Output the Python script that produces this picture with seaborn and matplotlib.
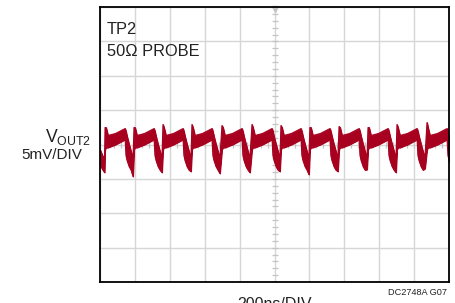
import matplotlib
matplotlib.use("Agg")
import matplotlib.pyplot as plt
import numpy as np
import seaborn as sns

# ---------------- data ----------------
# rising-edge instants of the ripple (ns), 200 ns/div over 10 divisions
edge_times_ns = [29, 195, 361, 527, 699, 871, 1037, 1203, 1370, 1536, 1702, 1874]
# height of the spike at each rising edge (mV)
spike_top_mv = [2.47, 2.47, 2.91, 2.91, 2.76, 2.91, 2.76, 2.47, 2.62, 2.47, 2.91, 3.20]
# lowest point of the band just before the following edge (mV)
trough_mv = [-4.65, -4.07, -3.92, -4.21, -4.07, -3.92, -4.36, -3.92, -3.63, -4.07, -3.49, -3.92]
# one switching period of the band: time after the edge (ns), upper / lower envelope (mV)
shape_dt_ns = [0, 6, 17, 60, 115, 120, 126, 138, 149, 160]
shape_hi_mv = [None, 2.47, 1.31, 1.60, 2.32, 1.90, 1.20, 0.00, -1.00, -1.90]
shape_lo_mv = [-0.73, -0.44, -0.44, 0.00, 0.73, -1.60, -2.30, -3.20, -3.70, None]
# start of the trace before the first edge
lead_t_ns = [0, 14, 26]
lead_hi_mv = [-0.73, -1.60, -2.00]
lead_lo_mv = [-2.90, -3.60, -4.07]

x_ticks_ns = list(range(0, 2001, 200))
y_ticks_mv = list(range(-20, 21, 5))

RED = "#A8001F"
GRID = "#d6d6d6"

# ---------------- build the trace ----------------
t, hi, lo = list(lead_t_ns), list(lead_hi_mv), list(lead_lo_mv)
for k, e in enumerate(edge_times_ns):
    for j, dt in enumerate(shape_dt_ns):
        t.append(e + dt)
        hi.append(spike_top_mv[k] if shape_hi_mv[j] is None else shape_hi_mv[j])
        lo.append(trough_mv[k] if shape_lo_mv[j] is None else shape_lo_mv[j])

sns.set_theme(style="white")
REG = ["Liberation Sans", "DejaVu Sans"]
plt.rcParams["font.family"] = REG
plt.rcParams["mathtext.fontset"] = "custom"
plt.rcParams["mathtext.rm"] = "Liberation Sans"
plt.rcParams["mathtext.it"] = "Liberation Sans"
plt.rcParams["mathtext.bf"] = "Liberation Sans:bold"

fig = plt.figure(figsize=(4.56, 3.03), dpi=100)
W, H = 456, 303
ax = fig.add_axes([100 / W, 1 - 282 / H, 349 / W, 275 / H])

ax.set_xlim(0, 2000)
ax.set_ylim(-20, 20)
ax.set_xticks(x_ticks_ns)
ax.set_yticks(y_ticks_mv)
ax.grid(True, color=GRID, lw=1.0)
ax.tick_params(length=0, labelbottom=False, labelleft=False)
for s in ax.spines.values():
    s.set_color("black")
    s.set_linewidth(1.3)
    s.set_zorder(5)

# minor graticule marks on the centre lines
mx = np.arange(0, 2001, 40)
ax.plot(mx, np.zeros_like(mx), ls="none", marker="|", ms=4.5, mew=0.9, color="#c4c4c4", zorder=1)
my = np.arange(-20, 21, 1)
ax.plot(np.full_like(my, 1000), my, ls="none", marker="_", ms=4.5, mew=0.9, color="#c4c4c4", zorder=1)
ax.plot([1000], [19.7], ls="none", marker="v", ms=4, color="#c4c4c4", zorder=1, clip_on=False)

# waveform band
ax.fill_between(t, lo, hi, color=RED, lw=0.8, edgecolor=RED, zorder=3)
sns.lineplot(x=t, y=hi, ax=ax, color=RED, lw=0.8, sort=False, estimator=None, zorder=3)
sns.lineplot(x=t, y=lo, ax=ax, color=RED, lw=0.8, sort=False, estimator=None, zorder=3)
ax.set_xlim(0, 2000)
ax.set_ylim(-20, 20)
ax.set_xlabel("")
ax.set_ylabel("")

def fx(px):
    return px / W

def fy(py):
    return 1 - py / H

TXT = "#222222"
fig.text(fx(107), fy(34.5), "TP2", family=REG, fontsize=11.8, color=TXT, va="baseline", ha="left")
fig.text(fx(107), fy(56.5), "50\u03a9 PROBE", family=REG, fontsize=11.8, color=TXT, va="baseline", ha="left")

fig.text(fx(91), fy(141.8), r"V$_{\mathregular{OUT2}}$", family=REG, fontsize=12.7, color=TXT,
         va="baseline", ha="right")
fig.text(fx(82), fy(159.3), "5mV/DIV", family=REG, fontsize=11.0, color=TXT, va="baseline", ha="right")

fig.text(fx(275), fy(309), "200ns/DIV", family=REG, fontsize=11.5, color=TXT, va="baseline", ha="center")
fig.text(fx(447), fy(295), "DC2748A G07", family=REG, fontsize=6.6, color=TXT, va="baseline", ha="right")

fig.savefig("out.png", dpi=100)
